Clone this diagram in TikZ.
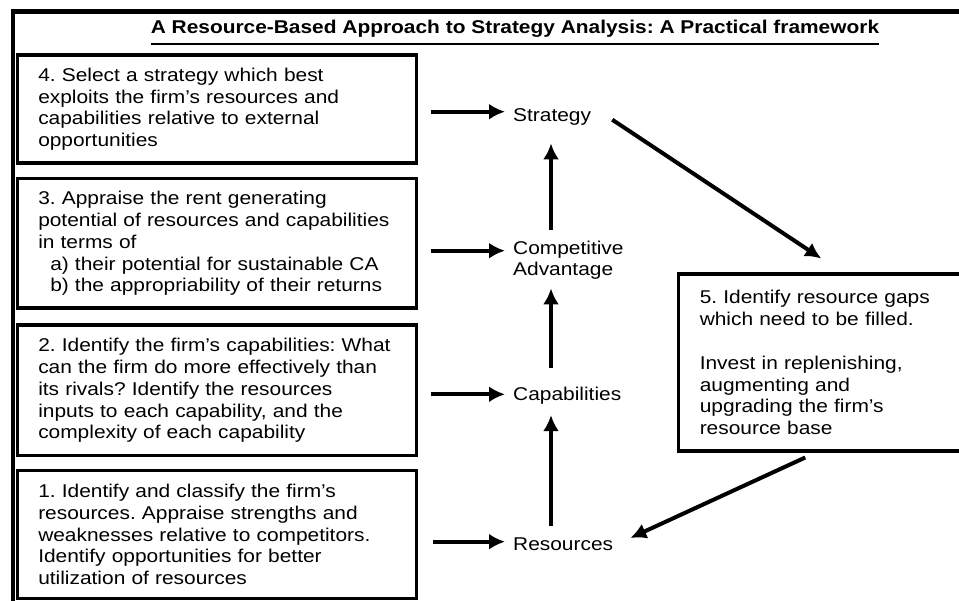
\documentclass[tikz,border=0pt]{standalone}
\usepackage{fontspec}
\setmainfont{Liberation Sans}[FakeStretch=1.13]
\usetikzlibrary{arrows.meta}
\frenchspacing

\begin{document}
\begin{tikzpicture}[x=1pt,y=-1pt,every node/.style={font=\fontsize{18.5pt}{21.8pt}\selectfont}]
\tikzstyle{stepbox}=[rectangle, draw=black, line width=3.5pt, inner xsep=21pt, inner ysep=0pt, text width=357pt, align=left, anchor=north west, minimum width=399pt]
\tikzstyle{lbl}=[inner sep=0pt, anchor=base west]
\tikzstyle{connect}=[-{Latex[length=16pt,width=16pt]}, line width=4pt]
\tikzstyle{frame}=[line width=4.5pt]
\useasboundingbox (0,0) rectangle (959,601);
\clip (0,0) rectangle (959,601);
\draw[frame] (965,11.3) -- (13,11.3) -- (13,610);
% title
\node[inner sep=0pt, anchor=base, font=\fontsize{18.5pt}{21.8pt}\selectfont\bfseries] (title) at (515,33.3) {A Resource-Based Approach to Strategy Analysis: A Practical framework};
\draw[line width=1.8pt] ([yshift=-10.5pt]title.base west) -- ([yshift=-10.5pt]title.base east);
% the four steps on the left
\node[stepbox, minimum height=108pt] (step4) at (15.5,53.5) {4. Select a strategy which best\\exploits the firm’s resources and\\capabilities relative to external\\opportunities};
\node[stepbox, minimum height=129.5pt] (step3) at (15.5,177) {3. Appraise the rent generating\\potential of resources and capabilities\\in terms of\\\hspace*{12pt}a) their potential for sustainable CA\\\hspace*{12pt}b) the appropriability of their returns};
\node[stepbox, minimum height=130.5pt] (step2) at (15.5,323.5) {2. Identify the firm’s capabilities: What\\can the firm do more effectively than\\its rivals? Identify the resources\\inputs to each capability, and the\\complexity of each capability};
\node[stepbox, minimum height=127.5pt] (step1) at (15.5,469) {1. Identify and classify the firm’s\\resources. Appraise strengths and\\weaknesses relative to competitors.\\Identify opportunities for better\\utilization of resources};
\node[stepbox, minimum height=177pt, minimum width=282pt, inner xsep=21.5pt, text width=239pt] (step5) at (676.5,272.5) {5. Identify resource gaps\\which need to be filled.\\[21.8pt]Invest in replenishing,\\augmenting and\\upgrading the firm’s\\resource base};
% the middle column
\node[lbl] (strat) at (513,121.7) {Strategy};
\node[lbl, align=left, anchor=north west] (compadv) at (513,240.4) {Competitive\\Advantage};
\node[lbl] (capab) at (513,400.7) {Capabilities};
\node[lbl] (resrc) at (513,550.7) {Resources};
\coordinate (strat-in) at ([yshift=10pt]strat.base west);
\coordinate (compadv-in) at ([yshift=-10.3pt]compadv.north west);
\coordinate (capab-in) at ([yshift=6.4pt]capab.base west);
\coordinate (resrc-in) at ([yshift=9pt]resrc.base west);
\draw[connect, shorten <=12.5pt, shorten >=8pt] (step4.east |- strat-in) -- (strat-in);
\draw[connect, shorten <=12.5pt, shorten >=8pt] (step3.east |- compadv-in) -- (compadv-in);
\draw[connect, shorten <=12.5pt, shorten >=8pt] (step2.east |- capab-in) -- (capab-in);
\draw[connect, shorten <=15pt, shorten >=8pt] (step1.east |- resrc-in) -- (resrc-in);
\draw[connect, shorten <=12.1pt, shorten >=10.4pt] ([xshift=38pt]resrc.north west) -- ([xshift=38pt]capab.south west);
\draw[connect, shorten <=18.8pt, shorten >=8.6pt] ([xshift=38pt]capab.north west) -- ([xshift=38pt]compadv.south west);
\draw[connect, shorten <=10.4pt, shorten >=17.7pt] ([xshift=38pt]compadv.north west) -- ([xshift=38pt]strat.south west);
% the loop through step 5
\draw[connect] ([xshift=21pt,yshift=2pt]strat.base east) -- ([xshift=2pt,yshift=14pt]step5.north);
\draw[connect] ([xshift=-14pt,yshift=-4.5pt]step5.south) -- ([xshift=17pt,yshift=12.7pt]resrc.base east);
\end{tikzpicture}
\end{document}
